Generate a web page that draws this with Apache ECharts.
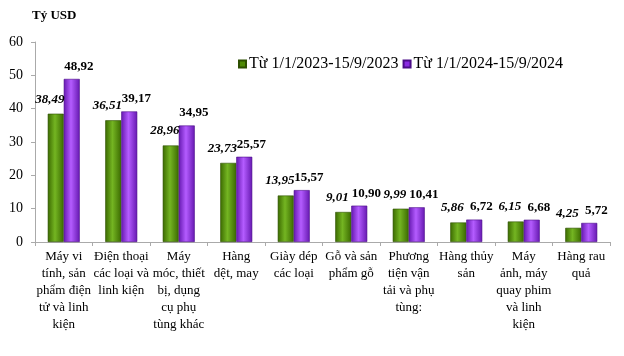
<!DOCTYPE html>
<html><head><meta charset="utf-8">
<script src="https://cdn.jsdelivr.net/npm/echarts@6/dist/echarts.min.js"></script>
<style>html,body{margin:0;padding:0;background:#fff}#c{width:624px;height:356px}</style>
</head><body><div id="c"></div>
<script>
const categories = [
  "Máy vi\ntính, sản\nphẩm điện\ntử và linh\nkiện",
  "Điện thoại\ncác loại và\nlinh kiện",
  "Máy\nmóc, thiết\nbị, dụng\ncụ phụ\ntùng khác",
  "Hàng\ndệt, may",
  "Giày dép\ncác loại",
  "Gỗ và sản\nphẩm gỗ",
  "Phương\ntiện vận\ntải và phụ\ntùng:",
  "Hàng thủy\nsản",
  "Máy\nảnh, máy\nquay phim\nvà linh\nkiện",
  "Hàng rau\nquả"
];
const series2023 = [38.49, 36.51, 28.96, 23.73, 13.95, 9.01, 9.99, 5.86, 6.15, 4.25];
const series2024 = [48.92, 39.17, 34.95, 25.57, 15.57, 10.90, 10.41, 6.72, 6.68, 5.72];
const name2023 = "Từ 1/1/2023-15/9/2023";
const name2024 = "Từ 1/1/2024-15/9/2024";
const yTicks = [0, 10, 20, 30, 40, 50, 60];

const serif = '"Liberation Serif", "Times New Roman", serif';
const fmt = v => v.value.toFixed(2).replace('.', ',');
function grad(edge, mid) {
  return new echarts.graphic.LinearGradient(0, 0, 1, 0, [
    {offset: 0, color: edge}, {offset: 0.45, color: mid}, {offset: 1, color: edge}
  ]);
}
const chart = echarts.init(document.getElementById('c'));
chart.setOption({
  animation: false,
  textStyle: {fontFamily: serif},
  title: {text: 'Tỷ USD', left: 27, top: 4, textStyle: {fontFamily: serif, fontSize: 13, fontWeight: 'bold', color: '#000'}},
  legend: {
    top: 51, left: 233, itemWidth: 7, itemHeight: 7, itemGap: 4,
    icon: 'rect',
    textStyle: {fontFamily: serif, fontSize: 16, color: '#000', padding: [0, 0, 0, -2]},
    data: [{name: name2023, itemStyle: {color: '#4f8a05'}}, {name: name2024, itemStyle: {color: '#8a2be2'}}]
  },
  grid: {left: 35, right: 14, top: 42, bottom: 114},
  xAxis: {
    type: 'category', data: categories,
    axisLine: {lineStyle: {color: '#aaa'}},
    axisTick: {show: true, length: 4, lineStyle: {color: '#aaa'}},
    axisLabel: {interval: 0, margin: 6, fontFamily: serif, fontSize: 13, color: '#000', lineHeight: 17}
  },
  yAxis: {
    type: 'value', min: 0, max: 60, interval: 10,
    splitLine: {show: false},
    axisLine: {show: true, lineStyle: {color: '#aaa'}},
    axisTick: {show: true, length: 4, lineStyle: {color: '#aaa'}},
    axisLabel: {fontFamily: serif, fontSize: 14, color: '#000', margin: 12,
      formatter: v => yTicks.includes(v) ? String(v) : ''}
  },
  series: [
    {name: name2023, type: 'bar', data: series2023, barWidth: 16, barGap: '0%',
      itemStyle: {color: grad('#3b6a00', '#74b522'), borderColor: '#2d4f00', borderWidth: 0.6},
      label: {show: true, position: 'top', distance: 8, offset: [-6, 0], formatter: fmt,
        fontFamily: serif, fontSize: 13, fontWeight: 'bold', fontStyle: 'italic', color: '#000'}},
    {name: name2024, type: 'bar', data: series2024, barWidth: 16,
      itemStyle: {color: grad('#6518b0', '#b45cff'), borderColor: '#4a0c88', borderWidth: 0.6},
      label: {show: true, position: 'top', distance: 6, offset: [7, 0], formatter: fmt,
        fontFamily: serif, fontSize: 13, fontWeight: 'bold', color: '#000'}}
  ]
});
</script></body></html>
